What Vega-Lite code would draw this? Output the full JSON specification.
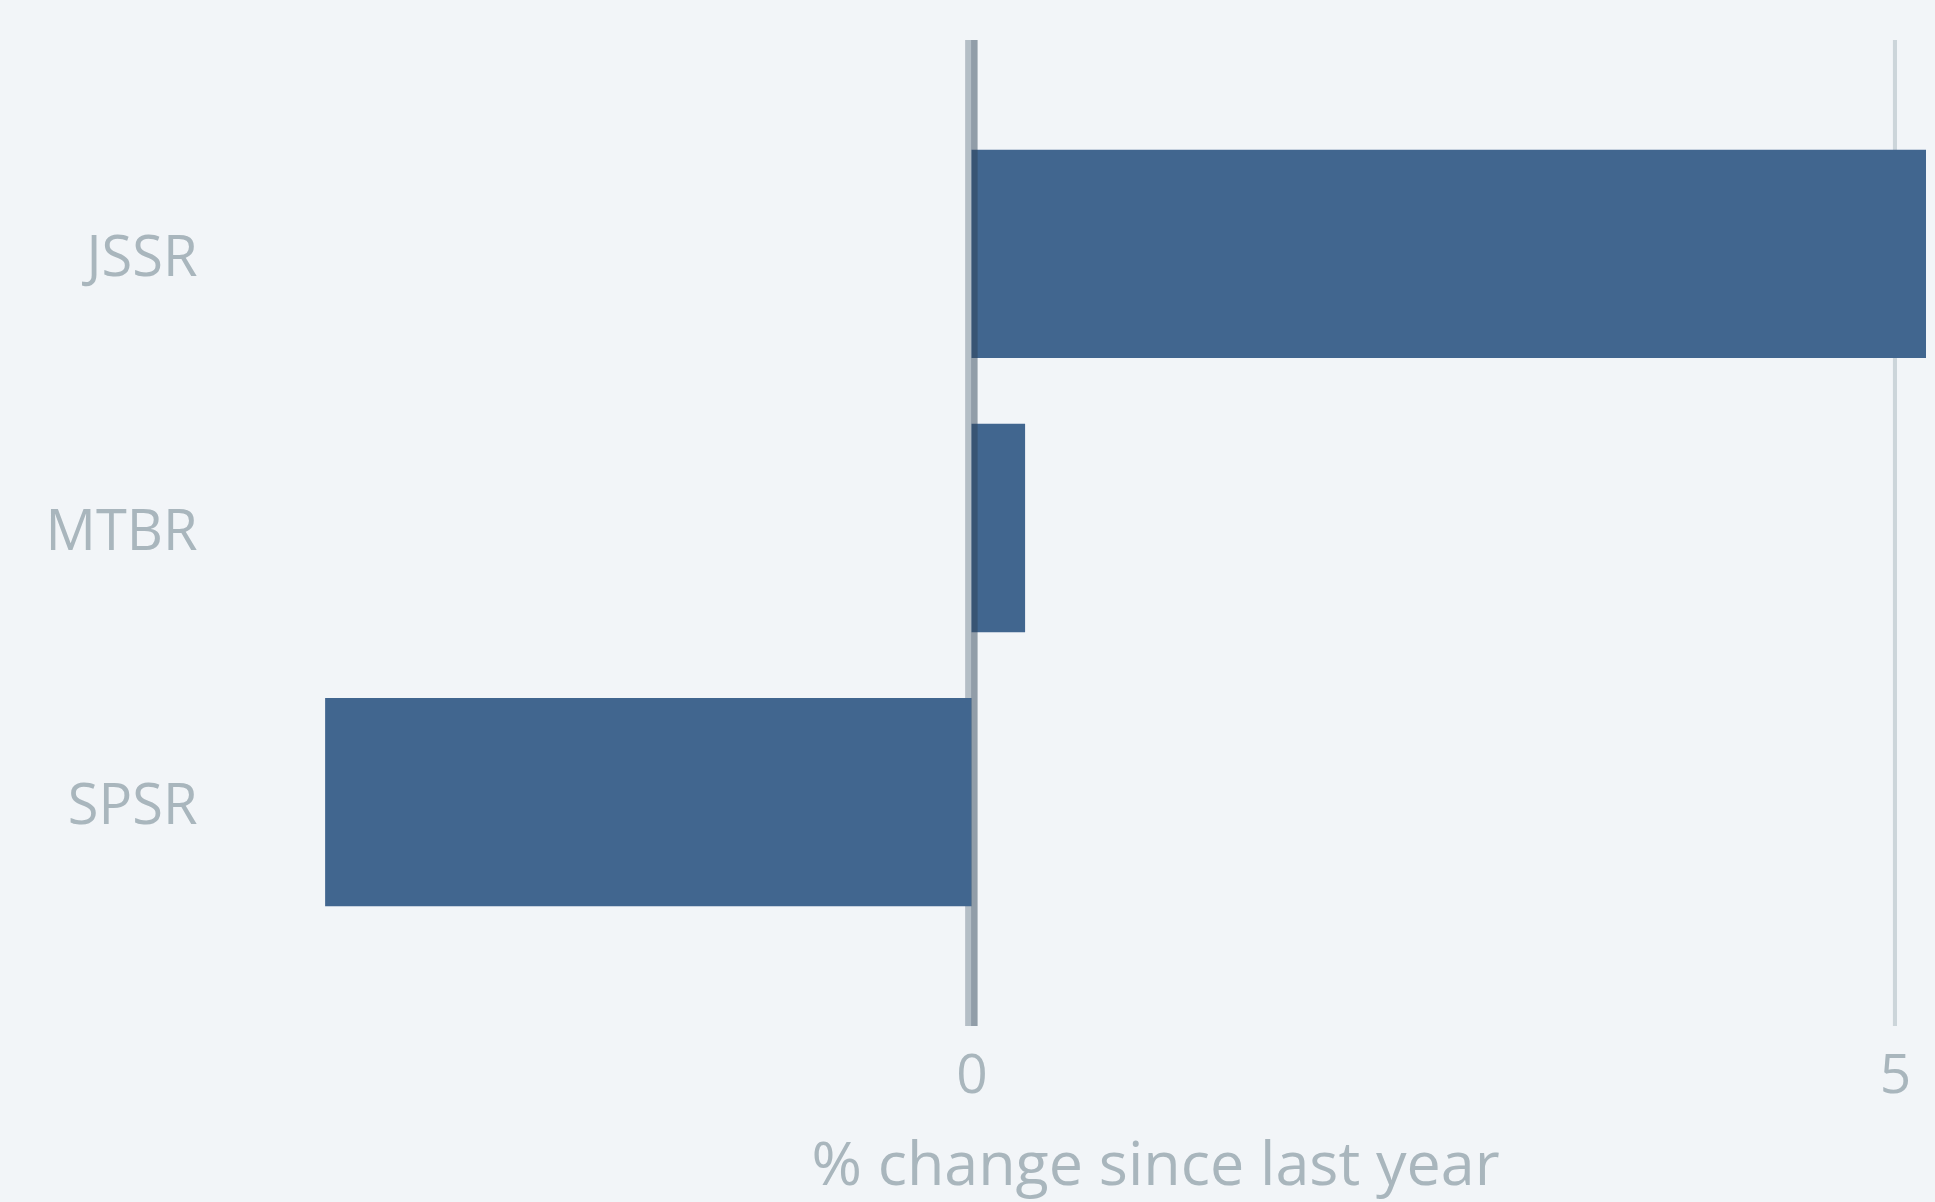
{
  "$schema": "https://vega.github.io/schema/vega-lite/v6.json",
  "width": 1720,
  "height": 986,
  "autosize": {"type": "none"},
  "padding": {"left": 206, "top": 40, "right": 9, "bottom": 176},
  "background": "#f2f5f8",
  "config": {"view": {"stroke": null}, "font": "Open Sans"},
  "data": {
    "values": [
      {"station": "JSSR", "change": 5.168},
      {"station": "MTBR", "change": 0.29},
      {"station": "SPSR", "change": -3.5}
    ]
  },
  "layer": [
    {
      "mark": {"type": "rule", "color": "#ccd5da", "strokeWidth": 4},
      "encoding": {"x": {"datum": 5}}
    },
    {
      "mark": {"type": "rule", "color": "#b4bec6", "strokeWidth": 6, "xOffset": -3},
      "encoding": {"x": {"datum": 0}}
    },
    {
      "mark": {"type": "bar", "color": "#41668f"},
      "encoding": {
        "y": {
          "field": "station",
          "type": "nominal",
          "sort": ["JSSR", "MTBR", "SPSR"],
          "scale": {"paddingInner": 0.24, "paddingOuter": 0.4, "range": [0, 976]},
          "axis": {
            "title": null,
            "domain": false,
            "ticks": false,
            "grid": false,
            "labelFontSize": 56,
            "labelColor": "#a9b6bd",
            "labelPadding": 9,
            "labelOffset": 5
          }
        },
        "x": {
          "field": "change",
          "type": "quantitative",
          "scale": {"domain": [-4.145, 5.168], "nice": false, "zero": false},
          "axis": {
            "values": [0, 5],
            "format": "d",
            "domain": false,
            "ticks": false,
            "tickSize": 0,
            "grid": false,
            "labelFontSize": 55,
            "labelColor": "#a9b6bd",
            "labelPadding": 23,
            "title": "% change since last year",
            "titleFontSize": 61,
            "titleFontWeight": "normal",
            "titleColor": "#a9b6bd",
            "titlePadding": 33,
            "titleX": 949,
            "titleAlign": "center"
          }
        }
      }
    },
    {
      "mark": {"type": "rule", "color": "#2f4659", "strokeOpacity": 0.45, "opacity": 0.45, "strokeWidth": 6, "xOffset": 3},
      "encoding": {"x": {"datum": 0}}
    }
  ]
}
